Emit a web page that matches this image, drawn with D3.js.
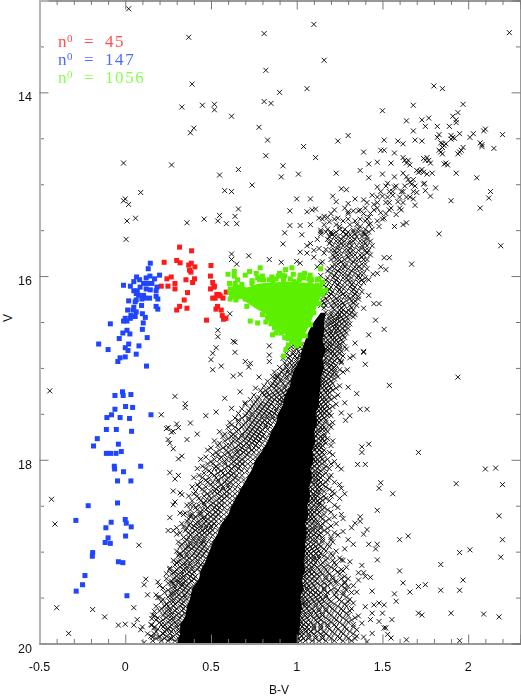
<!DOCTYPE html>
<html>
<head>
<meta charset="utf-8">
<script src="https://cdn.jsdelivr.net/npm/d3@7"></script>
<style>
  body { margin: 0; background: #fff; }
  text { font-family: "Liberation Sans", sans-serif; fill: #111; }
</style>
</head>
<body>
<div id="chart"></div>
<script>
const width = 521;
const height = 697;

// sparse stars, [B-V, V]
const fieldStars = [
  [.02,13.09],[.37,13.40],[.39,13.91],[.33,14.16],[.45,14.14],[.52,14.13],[.52,14.19],[.62,14.26],[.40,14.39],[.38,14.44],
  [-.01,14.77],[.27,14.79],[.66,14.84],[.55,14.90],[.74,15.01],[.09,15.09],[.58,15.07],[.62,15.08],[0,15.16],[-.01,15.18],
  [.02,15.22],[.66,15.27],[.06,15.37],[.01,15.40],[.36,15.42],[.46,15.38],[.54,15.40],[.55,15.34],[.59,15.43],[.64,15.35],
  [.65,15.43],[.78,14.38],[.005,15.6],[1.10,13.26],[.81,13.36],[1.16,13.65],[.82,13.76],[2.24,13.35],[.90,14.00],[1.06,13.96],
  [.81,14.10],[.85,14.12],[1.80,13.93],[1.85,13.96],[1.50,14.20],[1.68,14.14],[1.97,14.13],[1.94,14.22],[1.91,14.26],[1.93,14.30],
  [1.93,14.33],[1.77,14.28],[1.73,14.30],[1.64,14.31],[1.75,14.37],[1.82,14.37],[1.89,14.37],[1.68,14.42],[1.30,14.47],[.83,14.52],
  [1.24,14.53],[1.04,14.59],[1.51,14.52],[1.59,14.53],[1.62,14.56],[1.69,14.52],[1.73,14.53],[1.83,14.46],[1.82,14.49],[1.90,14.47],
  [1.95,14.45],[2.03,14.45],[2.01,14.49],[2.09,14.42],[2.10,14.40],[2.20,14.46],[2.07,14.55],[2.08,14.57],[2.08,14.59],[2.15,14.61],
  [.82,14.69],[1.11,14.71],[1.39,14.65],[1.49,14.63],[1.51,14.63],[1.57,14.66],[.92,14.80],[.91,14.92],[1.01,14.89],[1.23,14.88],
  [1.37,14.85],[1.42,14.78],[1.47,14.76],[1.55,14.77],[1.50,14.89],[1.42,14.93],[1.93,14.88],[2.05,14.93],[2.13,15.08],[2.12,15.15],
  [1.90,15.18],[2.07,15.26],[1.81,15.04],[1.78,15.13],[1.75,15.07],[1.74,15.0],[1.83,15.54],
  [1.85,14.56],[1.86,14.58],[1.84,14.55],[1.87,14.56],[1.85,14.60],[1.91,14.49],[1.90,14.51],[1.92,14.50],[1.95,14.65],[1.96,14.63],
  [1.94,14.67],[1.97,14.60],[1.77,14.74],[1.76,14.71],[1.78,14.77],[1.75,14.74],[1.74,14.72],[1.84,14.65],[1.83,14.63],[1.85,14.67],
  [1.87,14.77],[1.86,14.78],[1.88,14.79],[1.63,14.74],[1.64,14.77],[1.62,14.71],[1.66,14.79],[1.65,14.74],[1.72,14.86],[1.71,14.87],
  [1.73,14.84],[1.74,14.87],[1.76,14.89],[1.70,14.85],[1.65,14.95],[1.66,14.98],[1.67,15.0],[1.68,14.95],[1.64,14.92],[1.79,14.88],
  [1.745,14.99],[1.70,15.09],[1.62,14.88],[1.57,14.92],[1.53,14.99],[1.54,15.08],[1.57,15.03],[1.59,15.19],[1.64,15.14],[1.61,15.08],
  [1.68,15.16],[1.69,15.23],[1.45,15.28],[1.54,15.28],[1.61,15.28],[1.47,15.03],[1.37,15.28],[1.34,15.16],[1.39,15.17],[1.30,15.21],
  [1.23,15.19],[1.21,15.13],[1.26,15.05],[1.29,15.06],[1.08,15.16],[1.00,15.16],[.96,15.29],[1.06,15.30],[1.09,15.28],[1.11,15.27],
  [1.22,15.28],[1.30,15.30],[1.33,15.29],[1.36,15.29],[.96,15.45],[1.02,15.45],[1.08,15.44],[.93,15.53],[1.03,15.55],[1.14,15.50],
  [1.14,15.52],[1.16,15.35],[1.13,15.37],[1.24,15.37],[1.19,15.41],[1.25,15.46],[1.20,15.54],[1.37,15.46],[1.43,15.43],[1.48,15.46],
  [1.39,15.54],[1.33,15.50],[1.29,15.55],[1.51,15.37],[1.57,15.46],[1.62,15.44],[1.64,15.42],[1.42,15.36],[1.45,15.22],[1.50,15.13],
  [1.52,15.20],[1.56,15.12],[1.58,15.33],[1.47,15.40],[1.44,15.12],[1.49,15.31],[1.40,15.40],[1.34,15.40],[1.27,15.40],[1.18,15.36],
  [.92,15.65],[1.06,15.67],[1.10,15.72],[1.17,15.71],[1.02,15.74],[1.06,15.75],[.72,15.78],[.62,15.76],[.62,15.82],[.65,15.87],
  [.84,15.82],[.91,15.85],[1.0,15.84],[1.02,15.86],[1.14,15.86],[.61,16.41],
  [.84,16.76],[.84,16.86],[.84,16.93],[.54,16.59],[.54,16.66],[.63,16.71],[.64,16.72],[.53,16.78],[.51,16.84],[.64,16.83],
  [.50,16.91],[.56,16.98],[.51,17.02],[.70,16.93],[.73,16.95],[.72,16.99],[.63,17.09],[.67,17.07],[.78,17.10],[.88,17.09],
  [.76,17.22],[.67,17.26],[.58,17.33],[.70,17.38],[.62,17.44],[.53,17.48],[.47,17.52],
  [-.44,17.25],[.29,17.31],[.35,17.39],[.35,17.43],[.21,17.51],[.38,17.60],[.24,17.66],[.25,17.65],[.27,17.70],[.28,17.69],
  [.30,17.61],[.31,17.65],[.36,17.78],[.42,17.72],[.25,17.78],[.26,17.82],[.28,17.88],[.31,17.99],[.33,17.96],[.26,18.14],
  [.29,18.21],[.31,18.17],[.28,18.34],[.32,18.36],[.33,18.38],[.29,18.46],[.28,18.49],[.38,18.49],[.26,18.63],[.32,18.58],
  [.35,18.58],[.38,18.60],[.25,18.77],[.28,18.77],[.30,18.81],[.30,18.74],[.34,18.73],[.37,18.71],[.08,18.93],[-.43,18.43],
  [-.41,18.70],[-.40,19.61],[-.19,19.63],[-.12,19.71],[-.33,19.89],[.05,19.61],[-.04,19.80],[0,19.79],[.05,19.80],[.07,19.74],
  [.10,19.82],[.09,19.85],[.11,19.99],[.12,19.30],[.11,19.36],[.13,19.47],[.19,19.33],[.20,19.37],[.18,19.47],[.19,19.50],
  [.16,19.69],[.17,19.65],[.155,19.73],[.155,19.80],[.17,19.83],[.16,19.93],[.20,19.93],[.22,19.89],[.24,19.57],[.26,19.18],
  [.24,19.24],[.28,19.23],[.27,19.45],[.315,19.03],[.31,19.11],[.27,19.34],[.30,19.31],[.33,19.35],
  [2.19,15.67],[1.67,15.87],[1.54,15.80],[1.51,15.80],[1.49,15.90],[1.52,15.93],[1.47,15.97],[1.445,15.98],[1.42,16.04],[1.42,16.21],
  [1.45,16.30],[1.48,16.30],[1.39,16.35],[1.36,16.25],[1.46,16.48],[1.51,16.58],[1.42,16.64],[1.34,16.73],[1.39,16.82],[1.39,16.83],
  [1.33,16.87],[1.31,16.89],[1.40,16.96],[1.295,17.02],[1.26,16.93],[1.94,17.10],[1.54,17.19],[1.30,17.21],[1.35,17.28],[1.28,17.38],
  [1.37,17.45],[1.41,17.45],[1.31,17.52],[1.285,17.57],[1.26,17.49],[1.38,17.86],[1.42,17.83],[1.38,17.92],[1.71,17.92],[1.355,18.05],
  [1.40,18.05],[1.26,18.10],[2.10,18.10],[2.16,18.09],[1.93,18.26],[2.20,18.27],[1.49,18.25],[1.48,18.31],[1.56,18.37],[1.28,18.37],
  [1.26,18.31],[1.47,18.55],[2.18,18.61],[1.37,18.62],[1.37,18.67],[1.34,18.69],[1.32,18.74],[1.27,18.64],[1.41,18.76],[1.39,18.81],
  [1.65,18.83],[1.60,18.87],[2.20,18.87],[1.42,18.92],[1.47,18.92],[1.46,18.97],[1.33,18.92],[1.30,18.87],[1.27,18.78],[2.01,18.98],
  [1.95,19.01],[2.19,19.06],[1.47,19.09],[1.31,19.11],[1.26,19.09],[1.38,19.15],[1.84,19.14],[1.60,19.21],[1.36,19.23],[1.39,19.23],
  [1.27,19.21],[1.36,19.31],[1.40,19.27],[1.43,19.28],[1.62,19.34],[1.97,19.31],[1.71,19.38],[1.75,19.36],[1.66,19.44],[1.84,19.42],
  [1.95,19.42],[1.44,19.43],[1.57,19.46],[1.58,19.54],[1.35,19.44],[1.28,19.33],[1.30,19.38],[1.90,19.67],[2.09,19.68],[2.18,19.71],
  [1.71,19.67],[1.73,19.69],[1.50,19.67],[1.555,19.74],[1.51,19.83],[1.52,19.83],[1.48,19.76],[1.43,19.74],[1.45,19.58],[1.48,19.56],
  [1.51,19.58],[1.44,19.67],[1.40,19.60],[1.33,19.56],[1.53,19.90],[1.55,19.94],[1.64,19.96],[1.95,19.97],[1.44,19.89],[1.39,19.93],
  [1.41,19.98],[1.36,19.70],[1.38,19.78],[1.35,19.85]
];

// crowded edges of the sequence, one V level with its B-V values
const crowdedRows = [
  [15.02,[1.52,1.58,1.63,1.69]],
  [15.08,[1.49,1.56,1.62,1.68]],
  [15.14,[1.47,1.53,1.6,1.66]],
  [15.2,[1.41,1.47,1.54,1.62]],
  [15.26,[1.28,1.4,1.47,1.55,1.6]],
  [15.32,[1.2,1.3,1.39,1.43,1.52]],
  [15.38,[1.15,1.22,1.3,1.37,1.41,1.5]],
  [15.44,[1.16,1.23,1.31,1.35,1.42]],
  [15.49,[1.18,1.25,1.28,1.36,1.4,1.44]],
  [15.52,[1.17,1.2,1.23,1.27,1.3,1.33,1.36,1.39,1.42]],
  [15.57,[1.19,1.22,1.24,1.27,1.3,1.32,1.35,1.38,1.41]],
  [15.62,[1.2,1.23,1.25,1.28,1.31,1.33,1.37,1.39,1.43]],
  [15.67,[1.21,1.24,1.27,1.29,1.32,1.35,1.38,1.41,1.44]],
  [15.72,[1.2,1.22,1.25,1.28,1.3,1.33,1.36,1.4,1.42]],
  [15.77,[1.21,1.24,1.26,1.29,1.32,1.34,1.37,1.39,1.43]],
  [15.82,[1.2,1.23,1.25,1.28,1.31,1.34,1.36,1.39,1.41]],
  [15.87,[1.22,1.24,1.27,1.29,1.32,1.35,1.38,1.4]],
  [15.92,[1.19,1.22,1.25,1.27,1.3,1.33,1.35,1.38,1.41]],
  [15.97,[1.2,1.23,1.26,1.28,1.31,1.34,1.37,1.39]],
  [16.02,[1.18,1.21,1.24,1.27,1.29,1.32,1.35,1.37,1.4]],
  [16.07,[1.19,1.22,1.25,1.28,1.31,1.33,1.36,1.39]],
  [16.12,[1.17,1.2,1.23,1.26,1.28,1.31,1.34,1.37]],
  [16.17,[1.18,1.21,1.24,1.26,1.29,1.32,1.35,1.38]],
  [16.22,[1.16,1.19,1.22,1.25,1.28,1.3,1.33,1.36]],
  [16.27,[1.15,1.18,1.21,1.24,1.26,1.29,1.32,1.34]],
  [16.32,[1.14,1.17,1.2,1.23,1.25,1.28,1.31,1.35]],
  [16.37,[1.22,1.25,1.27,1.3,1.33]],
  [16.42,[1.2,1.23,1.25,1.28,1.31,1.34]],
  [16.47,[1.19,1.22,1.24,1.27,1.3]],
  [16.52,[1.18,1.2,1.23,1.26,1.29,1.31]],
  [16.57,[1.16,1.19,1.22,1.24,1.27,1.3]],
  [16.62,[1.15,1.18,1.2,1.23,1.26,1.29]],
  [16.67,[1.15,1.17,1.2,1.22,1.25,1.28]],
  [16.72,[1.17,1.19,1.22,1.24,1.27]],
  [16.77,[.97,.99,1.02,1.18,1.2,1.23,1.25,1.28]],
  [16.82,[.98,1.01,1.04,1.17,1.19,1.21,1.24,1.26]],
  [16.87,[.96,.99,1.02,1.16,1.18,1.21,1.23,1.27]],
  [16.92,[.97,1.0,1.03,1.16,1.19,1.22,1.25]],
  [16.97,[.94,.97,.99,1.02,1.15,1.18,1.2,1.23]],
  [17.02,[.92,.95,.98,1.01,1.14,1.17,1.2,1.22,1.25]],
  [17.07,[.9,.93,.96,.99,1.15,1.18,1.21,1.23]],
  [17.12,[.88,.91,.94,.97,1.14,1.16,1.19,1.22]],
  [17.17,[.86,.89,.92,.95,.98,1.13,1.15,1.18,1.21]],
  [17.22,[.84,.87,.9,.93,.96,1.12,1.15,1.17,1.2,1.23]],
  [17.27,[.8,.83,.86,.89,.92,.95,1.12,1.14,1.17,1.19]],
  [17.32,[.78,.82,.85,.88,.91,.94,1.11,1.14,1.16,1.19,1.22]],
  [17.37,[.76,.8,.83,.86,.89,.92,1.11,1.13,1.16,1.18]],
  [17.42,[.74,.78,.81,.84,.87,.9,.93,1.11,1.13,1.15,1.18,1.21]],
  [17.47,[.72,.76,.79,.82,.85,.88,.91,1.1,1.13,1.15,1.17]],
  [17.52,[.7,.74,.77,.8,.83,.86,.89,.92,1.1,1.12,1.15,1.18,1.2]],
  [17.57,[.66,.72,.75,.78,.81,.84,.87,.9,1.1,1.12,1.14,1.17]],
  [17.62,[.62,.69,.73,.76,.79,.82,.85,.88,1.1,1.12,1.15,1.19]],
  [17.67,[.66,.71,.74,.77,.8,.83,.86,1.1,1.13,1.15,1.17]],
  [17.72,[.58,.63,.68,.72,.75,.78,.81,.84,.87,1.1,1.12,1.16]],
  [17.77,[.6,.66,.7,.73,.76,.79,.82,.85,1.1,1.13,1.15,1.18]],
  [17.82,[.55,.62,.67,.71,.74,.77,.8,.83,.86,1.1,1.13,1.17]],
  [17.87,[.5,.57,.64,.68,.72,.75,.78,.81,.84,1.1,1.12,1.14]],
  [17.92,[.53,.6,.65,.69,.72,.75,.78,.82,1.09,1.12,1.15,1.19]],
  [17.97,[.47,.56,.62,.66,.7,.73,.76,.79,.82,1.09,1.11,1.14]],
  [18.02,[.5,.58,.63,.67,.7,.73,.76,.79,1.08,1.11,1.13,1.16,1.22]],
  [18.07,[.45,.53,.6,.64,.67,.7,.73,.77,1.08,1.1,1.13,1.17,1.24]],
  [18.12,[.49,.56,.61,.65,.68,.71,.75,.78,1.08,1.11,1.14]],
  [18.17,[.43,.52,.58,.62,.65,.68,.72,.76,1.08,1.1,1.12,1.15,1.2]],
  [18.22,[.47,.54,.59,.63,.66,.69,.73,.77,1.08,1.11,1.13,1.18]],
  [18.27,[.42,.5,.56,.6,.63,.66,.7,.73,1.07,1.1,1.12,1.15,1.25]],
  [18.32,[.45,.53,.57,.61,.64,.67,.7,.74,1.07,1.09,1.12,1.14,1.19]],
  [18.37,[.4,.48,.54,.58,.61,.64,.67,.71,1.07,1.1,1.13,1.22]],
  [18.42,[.43,.5,.55,.58,.61,.64,.68,1.06,1.09,1.11,1.14,1.17,1.25]],
  [18.47,[.46,.51,.55,.58,.61,.64,.67,1.06,1.08,1.11,1.13]],
  [18.52,[.41,.48,.52,.55,.58,.61,.64,1.06,1.09,1.12,1.16,1.24]],
  [18.57,[.44,.49,.53,.56,.59,.62,.65,1.06,1.08,1.1,1.13,1.2]],
  [18.62,[.38,.41,.46,.5,.53,.56,.59,.62,1.05,1.08,1.1,1.14,1.22]],
  [18.67,[.36,.43,.47,.5,.53,.56,.59,1.05,1.07,1.1,1.12,1.17]],
  [18.72,[.4,.44,.47,.5,.53,.56,1.05,1.08,1.11,1.14,1.2]],
  [18.77,[.35,.41,.45,.48,.51,.54,.57,1.05,1.07,1.09,1.12,1.16]],
  [18.82,[.38,.42,.45,.48,.51,.54,1.04,1.07,1.1,1.13,1.24]],
  [18.87,[.36,.4,.43,.46,.49,.52,.55,1.04,1.06,1.09,1.11,1.15,1.2]],
  [18.92,[.33,.38,.41,.44,.47,.5,.53,1.04,1.07,1.1,1.13,1.18]],
  [18.97,[.35,.39,.42,.45,.48,.51,.54,1.04,1.06,1.09,1.12,1.16,1.28]],
  [19.02,[.32,.36,.4,.43,.46,.49,.52,1.03,1.06,1.08,1.11,1.14,1.2]],
  [19.07,[.34,.37,.41,.44,.47,.5,1.03,1.05,1.08,1.1,1.13,1.18,1.25]],
  [19.12,[.3,.35,.38,.42,.45,.48,.51,1.03,1.05,1.08,1.11,1.15,1.22]],
  [19.17,[.32,.36,.39,.43,.46,.49,1.03,1.06,1.09,1.12,1.16,1.2,1.29]],
  [19.22,[.29,.33,.37,.4,.44,.47,.5,1.02,1.05,1.07,1.1,1.14,1.18,1.24]],
  [19.27,[.3,.34,.38,.41,.45,.48,1.02,1.04,1.07,1.1,1.13,1.17,1.21,1.28]],
  [19.32,[.27,.31,.35,.39,.42,.46,1.02,1.05,1.08,1.11,1.15,1.19,1.23]],
  [19.37,[.29,.33,.36,.4,.43,1.01,1.04,1.07,1.1,1.14,1.18,1.26,1.33]],
  [19.42,[.25,.3,.34,.37,.41,.44,1.01,1.03,1.06,1.09,1.12,1.16,1.2,1.24,1.29]],
  [19.47,[.27,.31,.35,.38,.42,1.01,1.04,1.07,1.1,1.13,1.17,1.22,1.27]],
  [19.52,[.22,.28,.32,.36,.39,.43,1.01,1.03,1.06,1.09,1.12,1.15,1.19,1.25,1.31]],
  [19.57,[.24,.29,.33,.37,.4,1.0,1.03,1.05,1.08,1.11,1.14,1.18,1.22,1.28]],
  [19.62,[.21,.26,.3,.34,.38,.41,1.0,1.03,1.06,1.09,1.13,1.17,1.21,1.26,1.32]],
  [19.67,[.23,.27,.31,.35,.39,1.0,1.02,1.05,1.08,1.11,1.15,1.19,1.24,1.29]],
  [19.72,[.19,.24,.28,.32,.36,.4,1.0,1.03,1.06,1.1,1.13,1.17,1.22,1.27,1.34]],
  [19.77,[.2,.25,.29,.33,.37,1.0,1.02,1.05,1.08,1.12,1.16,1.2,1.25,1.3]],
  [19.82,[.17,.22,.26,.3,.34,.38,1.0,1.03,1.06,1.1,1.14,1.18,1.23,1.28,1.33]],
  [19.87,[.18,.23,.27,.31,.35,1.0,1.02,1.05,1.08,1.12,1.16,1.21,1.26,1.31]],
  [19.92,[.15,.2,.24,.28,.32,.36,1.0,1.03,1.07,1.11,1.15,1.19,1.24,1.29,1.35]],
  [19.97,[.16,.21,.25,.29,.33,1.0,1.02,1.05,1.09,1.13,1.17,1.22,1.27,1.32]]
];

// second pass over the same edges, between the levels above
const crowdedRowsB = [
  [15.545,[1.14,1.21,1.29,1.34,1.4]],
  [15.6,[1.12,1.18,1.26,1.34,1.41]],
  [15.645,[1.08,1.19,1.26,1.31,1.4]],
  [15.7,[1.13,1.24,1.31,1.38]],
  [15.75,[1.16,1.23,1.31,1.41]],
  [15.795,[1.1,1.22,1.3,1.38]],
  [15.845,[1.15,1.26,1.33]],
  [15.9,[1.12,1.21,1.28,1.36]],
  [15.945,[1.18,1.24,1.32]],
  [15.995,[1.14,1.22,1.3,1.36]],
  [16.045,[1.17,1.23,1.3,1.38]],
  [16.095,[1.16,1.24,1.32]],
  [16.145,[1.19,1.25,1.33]],
  [16.195,[1.2,1.27,1.34]],
  [16.245,[1.17,1.23,1.31]],
  [16.295,[1.16,1.22,1.27,1.33]],
  [16.345,[1.16,1.21,1.26,1.32]],
  [16.395,[1.17,1.2,1.24,1.26,1.29,1.32]],
  [16.445,[1.16,1.19,1.21,1.24,1.26,1.29,1.33]],
  [16.495,[1.17,1.2,1.22,1.25,1.28]],
  [16.545,[1.15,1.18,1.21,1.23,1.25,1.28]],
  [16.595,[1.14,1.17,1.2,1.23,1.25,1.28]],
  [16.645,[1.13,1.16,1.19,1.21,1.24,1.27]],
  [16.695,[1.15,1.18,1.21,1.23,1.26]],
  [16.745,[1.01,1.03,1.16,1.19,1.21,1.25]],
  [16.795,[.95,1.0,1.17,1.19,1.22,1.25,1.29]],
  [16.845,[.94,.98,1.02,1.16,1.2,1.22,1.25]],
  [16.895,[.92,.95,1.0,1.17,1.2,1.24]],
  [16.945,[.93,.96,1.0,1.16,1.18,1.21,1.26]],
  [16.995,[.9,.94,.98,1.15,1.19,1.22]],
  [17.045,[.87,.91,.95,.98,1.16,1.19,1.22,1.27]],
  [17.095,[.86,.89,.94,.98,1.14,1.17,1.2,1.24]],
  [17.145,[.83,.87,.91,.96,1.15,1.17,1.2]],
  [17.195,[.81,.85,.88,.93,.97,1.14,1.16,1.19,1.25]],
  [17.245,[.79,.82,.88,.91,.94,1.13,1.16,1.18,1.21]],
  [17.295,[.75,.81,.84,.87,.9,.93,1.13,1.15,1.18,1.24]],
  [17.345,[.73,.77,.84,.87,.9,.92,1.12,1.15,1.17,1.2]],
  [17.395,[.7,.75,.79,.82,.85,.9,1.12,1.14,1.17,1.23]],
  [17.445,[.68,.73,.77,.8,.83,.88,1.12,1.14,1.16,1.19]],
  [17.495,[.66,.71,.74,.78,.81,.84,.87,1.11,1.14,1.16,1.19]],
  [17.545,[.64,.68,.72,.76,.8,.83,.86,1.11,1.13,1.16]],
  [17.595,[.61,.66,.7,.74,.77,.8,.83,1.11,1.13,1.17,1.21]],
  [17.645,[.6,.64,.68,.72,.75,.78,.82,1.11,1.14,1.16,1.2]],
  [17.695,[.55,.61,.65,.7,.73,.76,.79,1.11,1.13,1.18]],
  [17.745,[.57,.62,.64,.68,.71,.74,.77,.8,1.11,1.14,1.16]],
  [17.795,[.52,.58,.63,.65,.69,.72,.75,.78,1.11,1.14,1.16,1.21]],
  [17.845,[.54,.59,.61,.66,.69,.72,.76,1.11,1.13,1.15,1.2]],
  [17.895,[.48,.55,.59,.62,.65,.67,.7,.74,1.1,1.13,1.16]],
  [17.945,[.51,.54,.58,.61,.64,.67,.71,1.1,1.13,1.16,1.21]],
  [17.995,[.44,.52,.55,.59,.62,.65,.68,1.1,1.12,1.15,1.18]],
  [18.045,[.48,.51,.55,.58,.62,.65,.68,1.09,1.12,1.15,1.2]],
  [18.095,[.42,.47,.52,.54,.58,.62,.66,1.09,1.12,1.16,1.19]],
  [18.145,[.46,.5,.54,.57,.6,.63,1.09,1.11,1.13,1.17]],
  [18.195,[.4,.45,.49,.53,.56,.6,.64,1.09,1.11,1.14,1.19]],
  [18.245,[.44,.48,.51,.54,.58,.61,1.09,1.11,1.14,1.17,1.22]],
  [18.295,[.39,.43,.47,.51,.54,.57,.6,1.08,1.11,1.13,1.17]],
  [18.345,[.41,.46,.5,.52,.55,.59,1.08,1.11,1.13,1.16,1.21]],
  [18.395,[.37,.42,.46,.49,.52,.56,.59,1.08,1.1,1.12,1.16,1.2]],
  [18.445,[.39,.44,.47,.49,.53,.56,1.08,1.1,1.12,1.15,1.19]],
  [18.495,[.36,.4,.43,.46,.5,.53,.56,1.07,1.1,1.13,1.15,1.22]],
  [18.545,[.38,.42,.45,.47,.51,.54,1.07,1.09,1.12,1.15,1.18]],
  [18.595,[.34,.39,.43,.44,.48,.51,.54,1.07,1.09,1.12,1.16,1.26]],
  [18.645,[.37,.4,.44,.46,.48,.52,1.07,1.09,1.11,1.15,1.19]],
  [18.695,[.33,.38,.41,.43,.46,.49,.52,1.06,1.09,1.12,1.15,1.23]],
  [18.745,[.36,.39,.42,.44,.47,.5,1.06,1.09,1.11,1.14,1.18]],
  [18.795,[.32,.37,.39,.43,.46,.49,1.06,1.08,1.11,1.14,1.18,1.22]],
  [18.845,[.34,.37,.4,.43,.46,1.06,1.08,1.12,1.15,1.2]],
  [18.895,[.31,.35,.38,.41,.44,.46,1.05,1.08,1.11,1.15,1.21]],
  [18.945,[.32,.36,.37,.4,.43,.46,1.05,1.08,1.11,1.14,1.19]],
  [18.995,[.3,.34,.37,.41,.44,.47,1.05,1.07,1.1,1.13,1.17,1.23]],
  [19.045,[.31,.33,.36,.39,.42,.45,1.05,1.07,1.1,1.13,1.16,1.21]],
  [19.095,[.28,.32,.36,.39,.42,1.05,1.07,1.1,1.12,1.17,1.21,1.27]],
  [19.145,[.29,.33,.35,.38,.41,.44,1.04,1.07,1.1,1.14,1.18,1.23]],
  [19.195,[.26,.3,.34,.36,.39,.42,1.04,1.07,1.09,1.13,1.17,1.22,1.26]],
  [19.245,[.27,.31,.33,.36,.39,1.04,1.06,1.09,1.12,1.15,1.19,1.25]],
  [19.295,[.24,.28,.32,.34,.37,.4,1.04,1.06,1.09,1.12,1.17,1.21,1.26,1.3]],
  [19.345,[.25,.28,.31,.34,.37,1.04,1.06,1.09,1.12,1.16,1.2,1.23,1.28]],
  [19.395,[.22,.27,.29,.32,.35,.38,1.03,1.06,1.08,1.11,1.16,1.22,1.28]],
  [19.445,[.23,.28,.3,.33,.36,1.03,1.05,1.08,1.11,1.14,1.18,1.23,1.27,1.32]],
  [19.495,[.2,.25,.27,.3,.33,.35,1.03,1.05,1.08,1.11,1.14,1.17,1.23,1.29]],
  [19.545,[.21,.26,.28,.31,.34,1.03,1.05,1.07,1.1,1.13,1.16,1.2,1.26,1.3]],
  [19.595,[.18,.23,.25,.28,.32,.35,1.02,1.05,1.07,1.11,1.15,1.19,1.24,1.29]],
  [19.645,[.2,.24,.26,.29,.33,1.02,1.04,1.07,1.1,1.13,1.17,1.22,1.27,1.31]],
  [19.695,[.17,.22,.25,.27,.3,.33,1.02,1.05,1.08,1.12,1.15,1.2,1.25,1.3]],
  [19.745,[.18,.22,.26,.28,.31,1.02,1.04,1.07,1.11,1.14,1.19,1.23,1.29,1.32]],
  [19.795,[.15,.21,.23,.27,.3,.32,1.02,1.04,1.07,1.1,1.14,1.18,1.22,1.27,1.33]],
  [19.845,[.19,.24,.25,.28,.31,1.02,1.05,1.07,1.1,1.14,1.19,1.24,1.29]],
  [19.895,[.13,.17,.22,.26,.3,.33,1.02,1.04,1.07,1.1,1.14,1.17,1.22,1.27,1.33]],
  [19.945,[.18,.23,.26,.27,.31,1.01,1.04,1.07,1.11,1.15,1.2,1.25,1.3,1.34]]
];

// where the marks overlap into solid black: V, left B-V, right B-V
const coreV = [16.4,16.5,16.6,16.7,16.8,16.9,17,17.1,17.2,17.3,17.4,17.5,17.6,17.7,17.8,17.9,18,18.1,18.2,18.3,18.4,18.5,18.6,18.7,18.8,18.9,19,19.1,19.2,19.3,19.4,19.5,19.6,19.7,19.8,19.9,20];
const coreLeft = [1.14,1.1,1.07,1.05,1.03,1.02,.99,.97,.96,.93,.92,.89,.88,.85,.83,.8,.76,.74,.71,.68,.65,.62,.6,.56,.54,.51,.49,.47,.44,.43,.39,.38,.36,.35,.32,.32,.3];
const coreRight = [1.17,1.16,1.16,1.15,1.17,1.15,1.16,1.14,1.14,1.13,1.13,1.11,1.12,1.1,1.11,1.09,1.1,1.08,1.09,1.07,1.08,1.06,1.07,1.05,1.06,1.05,1.05,1.04,1.05,1.03,1.04,1.02,1.03,1.02,1.02,1.01,1.01];

const redStars = [
  [.317,15.685],[.387,15.725],[.227,15.85],[.30,15.83],[.32,15.856],[.37,15.88],[.385,15.86],[.406,15.90],[.375,15.936],[.383,15.957],
  [.268,16.01],[.243,16.03],[.354,16.04],[.404,16.03],[.393,16.07],[.29,16.08],[.21,16.11],[.249,16.11],[.29,16.14],[.363,16.18],
  [.344,16.26],[.317,16.33],[.30,16.37],[.36,16.35],[.50,15.885],[.497,16.0],[.51,16.07],[.517,16.12],[.497,16.14],[.534,16.20],
  [.51,16.24],[.525,16.24],[.554,16.215],[.57,16.24],[.589,16.175],[.538,16.33],[.529,16.36],[.56,16.37],[.566,16.43],[.587,16.46],
  [.573,16.47],[.474,16.48],[.546,16.20],[.52,16.11],[.58,16.46]
];

const blueStars = [
  [.146,15.86],[.134,15.92],[.20,15.99],[.144,16.0],[.122,16.02],[.171,16.03],[.066,16.01],[.084,16.04],[.05,16.06],[-.01,16.10],
  [.03,16.11],[.107,16.08],[.13,16.08],[.155,16.08],[.185,16.12],[.122,16.14],[.146,16.15],[.18,16.16],[.05,16.16],[.07,16.16],
  [.087,16.12],[.064,16.19],[.078,16.21],[.107,16.21],[.142,16.24],[.18,16.22],[.19,16.25],[.02,16.27],[.064,16.26],[.097,16.25],
  [.117,16.24],[.058,16.28],[.095,16.32],[.05,16.34],[.18,16.33],[.19,16.36],[.014,16.37],[.045,16.37],[.064,16.39],[.10,16.41],
  [.033,16.43],[.058,16.44],[.117,16.45],[0,16.46],[-.01,16.49],[.01,16.49],[.03,16.46],[-.087,16.52],[.105,16.51],[.10,16.58],
  [.01,16.59],[-.014,16.62],[.027,16.63],[.128,16.67],[-.035,16.68],[-.155,16.74],[-.10,16.80],[.02,16.74],[.08,16.76],[0,16.78],
  [.016,16.81],[.064,16.85],[0,16.88],[-.03,16.89],[-.043,16.93],[.124,16.98],
  [-.016,17.26],[-.06,17.30],[-.012,17.30],[.033,17.29],[.002,17.42],[.043,17.43],[-.06,17.45],[-.08,17.51],[-.107,17.54],[-.03,17.54],
  [.025,17.55],[.15,17.51],[-.11,17.67],[-.052,17.67],[.037,17.69],[-.163,17.77],[-.185,17.85],[-.04,17.83],[-.11,17.93],[-.086,17.93],
  [-.054,17.93],[-.023,17.91],[-.064,18.07],[-.062,18.10],[.09,18.07],[-.01,18.13],[-.045,18.23],[.033,18.23],[-.216,18.50],[-.045,18.47],
  [-.288,18.66],[-.082,18.68],[0,18.65],[.006,18.69],[.035,18.73],[-.113,18.74],[-.10,18.85],[.002,18.83],[-.117,18.90],[-.087,18.91],
  [-.19,19.01],[-.192,19.05],[-.04,19.11],[-.014,19.12],[-.235,19.26],[-.249,19.36],[-.286,19.43],[.01,19.48]
];

// outline of the packed part of the green clump, then the stars around it
const greenCoreBV = [.66,.72,.78,.86,.94,1.02,1.1,1.16,1.127,1.079,1.02,.991,.947,.904,.836,.816,.768,.72,.67];
const greenCoreV = [16.17,16.12,16.08,16.07,16.06,16.07,16.08,16.146,16.28,16.516,16.734,16.76,16.66,16.589,16.498,16.407,16.36,16.3,16.24];
const greenStars = [
  [.599,15.98],[.636,15.95],[.636,16.0],[.70,15.99],[.725,15.95],[.787,15.91],[.764,15.97],[.772,16.02],[.855,16.01],[.894,16.0],
  [.917,15.99],[.935,15.93],[.972,15.91],[1.046,15.97],[1.139,15.92],[1.079,15.99],[1.088,16.04],[1.015,16.04],[.962,16.03],[.985,16.06],
  [.923,16.04],[.861,16.06],[.807,16.04],[.783,16.04],[.739,16.08],[.655,16.04],[.608,16.08],[.641,16.08],[.612,16.14],[.632,16.15],
  [.686,16.14],[.651,16.19],[.69,16.19],[.612,16.25],[.645,16.26],[.709,16.33],[.729,16.49],[.772,16.51],[.859,16.64],[.952,16.75],
  [.937,16.80],[.923,16.87],[1.079,16.08],[1.069,16.15],[1.108,16.14],[1.137,16.12],[1.0,16.08],[1.03,16.1],[.96,16.09],[.91,16.1],
  [.86,16.1],[.82,16.1],[.78,16.12],[.75,16.13],[.71,16.15],[.67,16.22],[.70,16.25],[.74,16.22],[.76,16.28],[.78,16.32],
  [.81,16.37],[.80,16.42],[.83,16.45],[.82,16.5],[.85,16.52],[.87,16.56],[.89,16.58],[.88,16.62],[.91,16.62],[.93,16.67],
  [.95,16.68],[.97,16.72],[1.0,16.76],[1.02,16.74],[1.05,16.65],[1.08,16.53],[1.1,16.4],[1.13,16.3],[1.15,16.2],[1.17,16.15],
  [1.1,16.12],[1.12,16.1],[1.05,16.1],[.66,16.12],[.72,16.2],[.68,16.17],[1.12,16.04],[1.04,16.02],[.93,16.0],[.84,16.04],
  [.61,16.17],[.63,16.2],[.65,16.23],[.62,16.22],[.66,16.16],[.68,16.21],[.64,16.11],[.68,16.09],[.74,16.05],[.8,16.0],
  [.88,16.03],[.9,15.97],[.98,15.98],[1.02,15.99],[1.07,16.03],[1.13,16.03],[1.15,16.07]
];

const legendLabels = ["45", "147", "1056"];
const legendColors = ["#ff4d4d", "#4d6dff", "#86ff4d"];

const majorX = [-0.5, 0, 0.5, 1, 1.5, 2];
const minorX = [-.4,-.3,-.2,-.1,.1,.2,.3,.4,.6,.7,.8,.9,1.1,1.2,1.3,1.4,1.6,1.7,1.8,1.9,2.1,2.2];
const majorY = [14, 16, 18, 20];
const minorY = [13.5,14.5,15,15.5,16.5,17,17.5,18.5,19,19.5];

const x = d3.scaleLinear().domain([-0.5, 2.305]).range([39.5, 520.5]);
const y = d3.scaleLinear().domain([13, 20]).range([0.5, 643.5]);

const svg = d3.select("#chart")
  .append("svg")
  .attr("width", width)
  .attr("height", height)
  .style("display", "block");

svg.append("clipPath").attr("id", "plot")
  .append("rect")
  .attr("x", 40).attr("y", 1)
  .attr("width", 480).attr("height", 642);

const plot = svg.append("g")
  .attr("clip-path", "url(#plot)")
  .style("filter", "blur(0.3px)"); // the original is a soft scan

// solid black middle of the sequence
plot.append("path")
  .datum(coreV)
  .attr("fill", "#000")
  .attr("d", d3.area()
    .y(d => y(d))
    .x0((d, i) => x(coreLeft[i]))
    .x1((d, i) => x(coreRight[i])));

const crossPath = "M-2.5,-2.5L2.5,2.5M-2.5,2.5L2.5,-2.5";
const crowdedStars = crowdedRows.concat(crowdedRowsB)
  .flatMap(([v, list]) => list.map(bv => [bv, v]));

plot.append("g")
  .selectAll("path")
  .data(fieldStars.concat(crowdedStars))
  .join("path")
  .attr("d", crossPath)
  .attr("transform", d => `translate(${x(d[0])},${y(d[1])})`)
  .attr("fill", "none")
  .attr("stroke", "#000")
  .attr("stroke-width", 0.9);

function drawSquares(stars, color) {
  plot.append("g")
    .selectAll("rect")
    .data(stars)
    .join("rect")
    .attr("x", d => x(d[0]) - 2.5)
    .attr("y", d => y(d[1]) - 2.5)
    .attr("width", 5)
    .attr("height", 5)
    .attr("fill", color);
}

drawSquares(redStars, "#ff1a1a");
drawSquares(blueStars, "#1f45ff");

plot.append("path")
  .datum(greenCoreBV)
  .attr("fill", "#5cf000")
  .attr("d", d3.line()
    .x(d => x(d))
    .y((d, i) => y(greenCoreV[i])));

drawSquares(greenStars, "#5cf000");

// axes, long and short ticks on all four sides
function drawAxis(axis, values, size, transform) {
  const g = svg.append("g")
    .attr("transform", transform)
    .call(axis.tickValues(values).tickSize(-size).tickFormat(""));
  g.selectAll("path,line").attr("stroke", "#777");
  return g;
}

drawAxis(d3.axisBottom(x), minorX, 4.5, "translate(0,643.5)");
drawAxis(d3.axisBottom(x), majorX, 9, "translate(0,643.5)");
drawAxis(d3.axisTop(x), minorX, 4.5, "translate(0,0.5)");
drawAxis(d3.axisTop(x), majorX, 9, "translate(0,0.5)");
drawAxis(d3.axisLeft(y), minorY, 4.5, "translate(39.5,0)");
drawAxis(d3.axisLeft(y), majorY, 9, "translate(39.5,0)")
  .select("path").attr("stroke", "#b4b4b4").attr("stroke-width", 2);
drawAxis(d3.axisRight(y), minorY, 4.5, "translate(520.5,0)");
drawAxis(d3.axisRight(y), majorY, 9, "translate(520.5,0)");

svg.append("g")
  .selectAll("text")
  .data(majorX)
  .join("text")
  .attr("x", d => x(d))
  .attr("y", 671)
  .attr("text-anchor", "middle")
  .attr("font-size", 12.5)
  .text(d => d);

svg.append("g")
  .selectAll("text")
  .data(majorY)
  .join("text")
  .attr("x", 32)
  .attr("y", d => y(d) + 9)
  .attr("text-anchor", "end")
  .attr("font-size", 12.5)
  .text(d => d);

svg.append("text")
  .attr("x", 279)
  .attr("y", 694)
  .attr("text-anchor", "middle")
  .attr("font-size", 12)
  .text("B-V");

svg.append("text")
  .attr("transform", "translate(12,318) rotate(-90)")
  .attr("text-anchor", "middle")
  .attr("font-size", 12)
  .text("V");

// legend, serif and widely set like the original
legendLabels.forEach((label, i) => {
  const row = svg.append("text")
    .attr("y", 47 + i * 18)
    .attr("font-size", 17)
    .style("font-family", '"Liberation Serif", serif')
    .style("fill", legendColors[i]);
  row.append("tspan").attr("x", 58).text("n");
  row.append("tspan").attr("x", 67).attr("dy", -5).attr("font-size", 11).text("0");
  row.append("tspan").attr("x", 84).attr("dy", 5).text("=");
  row.append("tspan").attr("x", 105).attr("letter-spacing", 1.6).text(label);
});
</script>
</body>
</html>
